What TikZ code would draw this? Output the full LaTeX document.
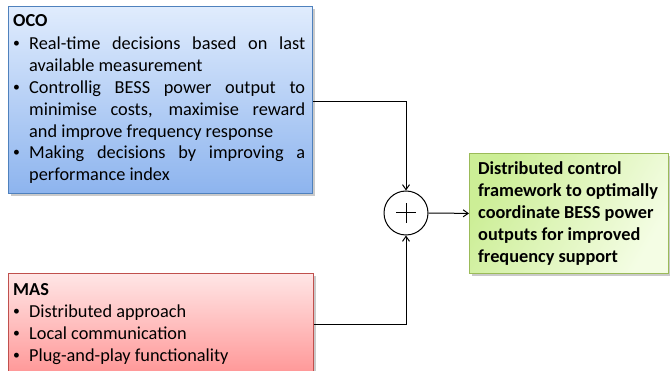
\documentclass[tikz,border=0pt]{standalone}
\usepackage{fontspec}
\setmainfont{Carlito}
\usetikzlibrary{arrows.meta,shadows}
\definecolor{ocoborder}{RGB}{79,129,189}
\definecolor{ocotop}{RGB}{224,236,253}
\definecolor{ocobot}{RGB}{141,180,238}
\definecolor{masborder}{RGB}{192,80,77}
\definecolor{mastop}{RGB}{255,230,230}
\definecolor{masbot}{RGB}{255,150,150}
\definecolor{grnborder}{RGB}{155,187,89}
\definecolor{grnA}{RGB}{204,238,150}
\definecolor{grnB}{RGB}{244,253,228}
\newcommand{\smallbul}{\raisebox{0.12em}{\scalebox{0.75}{•}}}
\newcommand{\bul}[1]{\par\hangindent=16pt\hangafter=1\noindent\makebox[16pt][l]{\smallbul}#1}
\tikzset{
  box/.style={draw, line width=0.8pt, inner sep=0pt, anchor=north west,
    drop shadow={shadow xshift=2.5pt, shadow yshift=-2.5pt, opacity=0.35, fill=black!60}},
  ocobox/.style={box, draw=ocoborder, top color=ocotop, bottom color=ocobot},
  masbox/.style={box, draw=masborder, top color=mastop, bottom color=masbot},
  grnbox/.style={box, draw=grnborder, shading=axis, left color=grnA, right color=grnB, shading angle=60},
  txt/.style={anchor=base west, inner sep=0pt, align=left},
  conn/.style={line width=1pt, -{Straight Barb[length=5pt,width=7pt]}},
  wire/.style={line width=1pt}
}
\begin{document}
\begin{tikzpicture}[x=1pt,y=-1pt]
\useasboundingbox (0,0) rectangle (670,371);
% boxes
\node[ocobox, minimum width=304pt, minimum height=187pt] (oco) at (8,6) {};
\node[masbox, minimum width=305pt, minimum height=102pt] (mas) at (8,273) {};
\node[grnbox, minimum width=199pt, minimum height=120pt] (grn) at (469,153) {};
% texts
\node[txt] (ocotext) at (13,27) {\parbox[t]{292pt}{\fontsize{18.3}{21.8}\selectfont\hyphenpenalty=10000\exhyphenpenalty=10000
\textbf{OCO}\par\vspace{1.2pt}
\bul{Real-time decisions based on last\linebreak available measurement}
\bul{Controllig BESS power output to\linebreak minimise costs, maximise reward\linebreak and improve frequency response}
\bul{Making decisions by improving a\linebreak performance index}}};
\node[txt] (mastext) at (13,296) {\parbox[t]{292pt}{\fontsize{18.3}{22}\selectfont
\textbf{MAS}\par
\bul{Distributed approach}
\bul{Local communication}
\bul{Plug-and-play functionality}}};
\node[txt] (grntext) at (478,175) {\parbox[t]{192pt}{\raggedright\fontsize{18.3}{21.8}\selectfont\bfseries
Distributed control\\ framework to optimally\\ coordinate BESS power\\ outputs for improved\\ frequency support}};
% summing junction
\node[draw, circle, line width=1pt, minimum size=44pt, inner sep=0pt] (sum) at (406,213) {};
\draw[line width=1pt] ([xshift=-10pt]sum.center) -- ([xshift=10pt]sum.center)
  ([yshift=-10pt]sum.center) -- ([yshift=10pt]sum.center);
% connectors
\draw[conn] ([yshift=-1.5pt]oco.east) -| (sum.north);
\draw[conn] (mas.east) -| (sum.south);
\draw[conn] (sum.east) -- (grn.west);
\end{tikzpicture}
\end{document}
